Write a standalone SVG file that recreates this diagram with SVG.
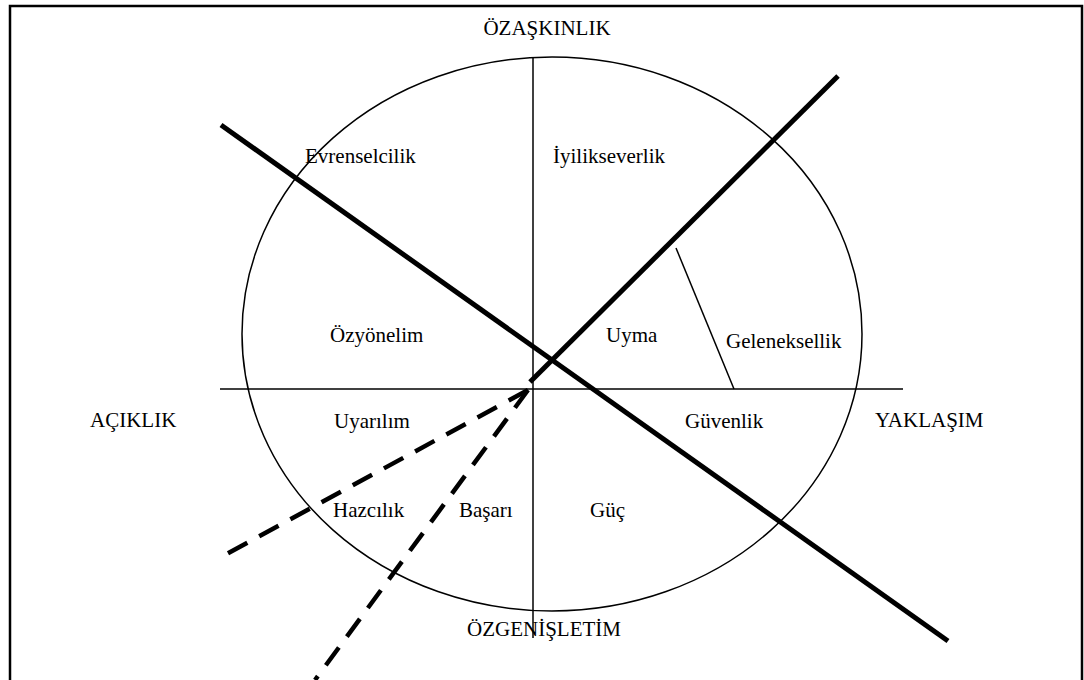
<svg xmlns="http://www.w3.org/2000/svg" width="1084" height="680" viewBox="0 0 1084 680">
<style>
text{font-family:"Liberation Serif","Times New Roman",serif;font-size:21px;fill:#000}
.thin{stroke:#000;stroke-width:1.5;fill:none}
.thick{stroke:#000;stroke-width:5;fill:none}
.dash{stroke:#000;stroke-width:4.5;fill:none;stroke-dasharray:22 13.5}
</style>
<rect x="10" y="6" width="1072" height="690" fill="#fff" stroke="#000" stroke-width="2.5"/>
<g id="frame">
<ellipse cx="552" cy="334" rx="310" ry="277" class="thin"/>
</g>
<g id="connectors">
<line x1="533" y1="57" x2="533" y2="638" class="thin"/>
<line x1="220" y1="389" x2="903" y2="389" class="thin"/>
<line x1="676" y1="248" x2="734" y2="389" class="thin"/>
<line x1="221" y1="125" x2="948" y2="641" class="thick"/>
<line x1="530" y1="382" x2="838" y2="76" class="thick"/>
<line x1="528" y1="390" x2="221" y2="557" class="dash"/>
<line x1="528" y1="390" x2="315" y2="680" class="dash"/>
</g>
<g id="axis-top"><text x="547" y="35" text-anchor="middle">ÖZAŞKINLIK</text></g>
<g id="axis-bottom"><text x="544" y="636" text-anchor="middle">ÖZGENİŞLETİM</text></g>
<g id="axis-left"><text x="90" y="427">AÇIKLIK</text></g>
<g id="axis-right"><text x="875" y="427">YAKLAŞIM</text></g>
<g id="n-evrenselcilik"><text x="305" y="163">Evrenselcilik</text></g>
<g id="n-iyilikseverlik"><text x="553" y="163">İyilikseverlik</text></g>
<g id="n-ozyonelim"><text x="330" y="342">Özyönelim</text></g>
<g id="n-uyma"><text x="606" y="342">Uyma</text></g>
<g id="n-geleneksellik"><text x="726" y="348">Geleneksellik</text></g>
<g id="n-uyarilim"><text x="334" y="428">Uyarılım</text></g>
<g id="n-guvenlik"><text x="685" y="428">Güvenlik</text></g>
<g id="n-hazcilik"><text x="333" y="517">Hazcılık</text></g>
<g id="n-basari"><text x="459" y="517">Başarı</text></g>
<g id="n-guc"><text x="590" y="517">Güç</text></g>
</svg>
